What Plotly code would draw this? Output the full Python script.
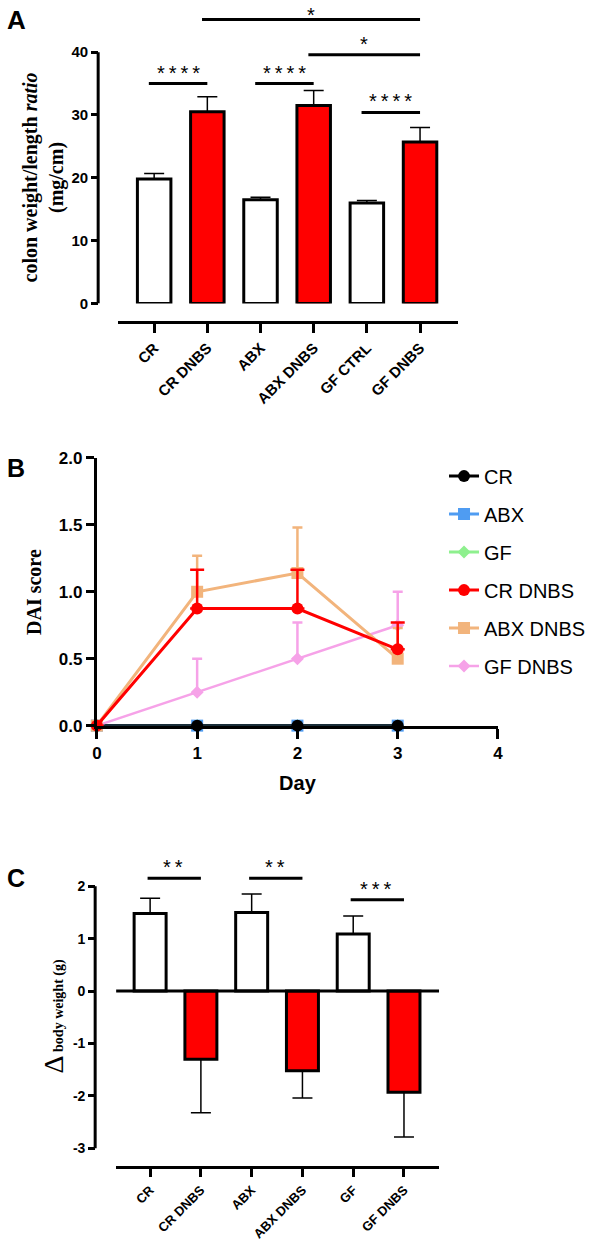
import plotly.graph_objects as go

W, H = 595, 1245

# ---------------- Data ----------------
# Panel A
a_groups = ["CR", "CR DNBS", "ABX", "ABX DNBS", "GF CTRL", "GF DNBS"]
a_means = [19.8, 30.5, 16.5, 31.5, 16.0, 25.7]
a_sem = [0.9, 2.4, 0.4, 2.4, 0.4, 2.3]
a_fill = ["white", "red", "white", "red", "white", "red"]
a_sig_pairs = [(0, 1), (2, 3), (4, 5), (3, 5), (1, 5)]
a_sig_y = [35.0, 35.0, 30.4, 39.6, 45.2]
a_sig_txt = ["****", "****", "****", "*", "*"]
a_yticks = [0, 10, 20, 30, 40]

# Panel B
b_days = [0, 1, 2, 3]
b_names = ["CR", "ABX", "GF", "CR DNBS", "ABX DNBS", "GF DNBS"]
b_values = {
    "CR": [0, 0, 0, 0],
    "ABX": [0, 0, 0, 0],
    "GF": [0, 0, 0, 0],
    "CR DNBS": [0, 0.875, 0.875, 0.57],
    "ABX DNBS": [0, 1.0, 1.14, 0.5],
    "GF DNBS": [0, 0.25, 0.5, 0.75],
}
b_err = {
    "CR": [0, 0, 0, 0],
    "ABX": [0, 0, 0, 0],
    "GF": [0, 0, 0, 0],
    "CR DNBS": [0, 0.29, 0.29, 0.2],
    "ABX DNBS": [0, 0.27, 0.34, 0.23],
    "GF DNBS": [0, 0.25, 0.27, 0.25],
}
b_colors = {"CR": "black", "ABX": "#4f9cf2", "GF": "#8ef08e",
            "CR DNBS": "#ff0000", "ABX DNBS": "#f2b47c", "GF DNBS": "#f6a2e8"}
b_symbols = {"CR": "circle", "ABX": "square", "GF": "diamond",
             "CR DNBS": "circle", "ABX DNBS": "square", "GF DNBS": "diamond"}
b_yticks = [0.0, 0.5, 1.0, 1.5, 2.0]
b_xticks = [0, 1, 2, 3, 4]

# Panel C
c_groups = ["CR", "CR DNBS", "ABX", "ABX DNBS", "GF", "GF DNBS"]
c_means = [1.48, -1.3, 1.5, -1.52, 1.09, -1.93]
c_sem = [0.29, 1.02, 0.35, 0.52, 0.34, 0.85]
c_fill = ["white", "red", "white", "red", "white", "red"]
c_sig_pairs = [(0, 1), (2, 3), (4, 5)]
c_sig_y = [2.15, 2.15, 1.74]
c_sig_txt = ["**", "**", "***"]
c_yticks = [2, 1, 0, -1, -2, -3]
c_yticklabels = ["2", "1", "0", "-1", "-2", "-3"]

# layout geometry (target picture pixels -> figure pixels)
S, OX, OY = 0.9836, 3.8, 9.9


def fpx(p):
    return (p - OX) / S


def fpy(p):
    return (p - OY) / S


def px_x(p):
    return min(max(fpx(p) / W, 0), 1)


def px_y(p):
    return min(max(1 - fpy(p) / H, 0), 1)


def stars(t):
    return "\u2009".join(t)


fig = go.Figure()
shapes = []
annotations = []

# ---------------- Panel A ----------------
a_zero_px, a_px_per_unit = 304, 6.275
a_top_fig = 0.0
a_range_top = (fpy(a_zero_px) - a_top_fig) / (a_px_per_unit / S)

fig.add_trace(go.Bar(
    x=list(range(len(a_groups))), y=a_means, width=0.63,
    marker=dict(color=a_fill, line=dict(color="black", width=3)),
    error_y=dict(type="data", array=a_sem, arrayminus=[0] * len(a_sem),
                 symmetric=False, color="black", thickness=1.5, width=10),
    xaxis="x", yaxis="y", showlegend=False,
))
for k, ((i, j), yv, t) in enumerate(zip(a_sig_pairs, a_sig_y, a_sig_txt)):
    shapes.append(dict(type="line", xref="x", yref="y", x0=i - 0.1, x1=j + 0.0,
                       y0=yv, y1=yv, line=dict(color="black", width=3)))
    top = yv > 42
    annotations.append(dict(xref="x", yref="y", x=(i + j) / 2 - 0.05, y=yv, text=stars(t),
                            showarrow=False, yanchor="bottom", yshift=-9 if top else -2,
                            font=dict(family="Arial", size=20, color="black")))
shapes.append(dict(type="line", xref="paper", yref="y", x0=px_x(97), x1=px_x(97),
                   y0=0, y1=40, line=dict(color="black", width=3)))

# ---------------- Panel B ----------------
draw_order = ["GF", "ABX", "CR", "GF DNBS", "ABX DNBS", "CR DNBS"]
for n in draw_order:
    big = n in ("CR", "CR DNBS", "ABX DNBS", "ABX")
    fig.add_trace(go.Scatter(
        x=b_days, y=b_values[n], name=n, mode="lines+markers",
        line=dict(color=b_colors[n], width=3 if n != "GF DNBS" else 2.5),
        marker=dict(symbol=b_symbols[n], color=b_colors[n],
                    size=(12 if big else 10)),
        error_y=dict(type="data", array=b_err[n], arrayminus=[0] * 4,
                     symmetric=False, color=b_colors[n], thickness=2.5,
                     width=7 if n == "CR DNBS" else 5,
                     visible=any(v > 0 for v in b_err[n])),
        xaxis="x2", yaxis="y2", cliponaxis=False,
        legendgroup=n, legendrank=b_names.index(n) + 1,
    ))

# ---------------- Panel C ----------------
c_two_px, c_px_per_unit = 886, 52.3
c_top_px = 855
c_range_top = 2 + (c_two_px - c_top_px) / c_px_per_unit

fig.add_trace(go.Bar(
    x=list(range(len(c_groups))), y=c_means, width=0.63,
    marker=dict(color=c_fill, line=dict(color="black", width=3)),
    error_y=dict(type="data",
                 array=[s if m > 0 else 0 for m, s in zip(c_means, c_sem)],
                 arrayminus=[s if m < 0 else 0 for m, s in zip(c_means, c_sem)],
                 symmetric=False, color="black", thickness=1.5, width=10),
    xaxis="x3", yaxis="y3", showlegend=False,
))
for (i, j), yv, t in zip(c_sig_pairs, c_sig_y, c_sig_txt):
    shapes.append(dict(type="line", xref="x3", yref="y3", x0=i - 0.05, x1=j + 0.0,
                       y0=yv, y1=yv, line=dict(color="black", width=3)))
    annotations.append(dict(xref="x3", yref="y3", x=(i + j) / 2 - 0.05, y=yv, text=stars(t),
                            showarrow=False, yanchor="bottom", yshift=-2,
                            font=dict(family="Arial", size=20, color="black")))
shapes.append(dict(type="line", xref="paper", yref="y3", x0=px_x(94), x1=px_x(94),
                   y0=-3, y1=2, line=dict(color="black", width=3)))
shapes.append(dict(type="line", xref="paper", yref="y3", x0=px_x(115), x1=px_x(438),
                   y0=0, y1=0, line=dict(color="black", width=3)))

# ---------------- Text labels ----------------
annotations += [
    dict(xref="paper", yref="paper", x=0, y=1, text="<b>A</b>",
         showarrow=False, xanchor="left", yanchor="top", yshift=6,
         font=dict(family="Arial", size=26, color="black")),
    dict(xref="paper", yref="paper", x=0, y=px_y(452), text="<b>B</b>",
         showarrow=False, xanchor="left", yanchor="top",
         font=dict(family="Arial", size=25, color="black")),
    dict(xref="paper", yref="paper", x=0, y=px_y(862), text="<b>C</b>",
         showarrow=False, xanchor="left", yanchor="top",
         font=dict(family="Arial", size=25, color="black")),
    dict(xref="paper", yref="paper", x=px_x(42), y=px_y(178),
         text="<b>colon weight/length <i>ratio</i></b><br><b>(mg/cm)</b>",
         showarrow=False, textangle=-90, xanchor="center", yanchor="middle",
         font=dict(family="Liberation Serif", size=20, color="black")),
    dict(xref="paper", yref="paper", x=px_x(33), y=px_y(592),
         text="<b>DAI score</b>", showarrow=False, textangle=-90,
         xanchor="center", yanchor="middle",
         font=dict(family="Liberation Serif", size=20, color="black")),
    dict(xref="paper", yref="paper", x=px_x(52), y=px_y(1016),
         text="<span style='font-size:28px'>Δ</span> <b>body weight (g)</b>",
         showarrow=False, textangle=-90, xanchor="center", yanchor="middle",
         font=dict(family="Liberation Serif", size=14, color="black")),
]

fig.update_layout(
    width=W, height=H, margin=dict(l=0, r=0, t=0, b=0),
    paper_bgcolor="white", plot_bgcolor="rgba(0,0,0,0)",
    shapes=shapes, annotations=annotations,
    showlegend=True,
    legend=dict(x=px_x(443), y=px_y(457), xanchor="left", yanchor="top",
                traceorder="grouped", tracegroupgap=9,
                font=dict(family="Arial", size=20, color="black"),
                bgcolor="rgba(0,0,0,0)", itemwidth=30),
    # Panel A axes
    xaxis=dict(domain=[px_x(117), px_x(457)], range=[-0.677, 5.714],
               anchor="free", position=px_y(323),
               tickvals=list(range(len(a_groups))), ticktext=a_groups,
               tickangle=-45, showline=True, linecolor="black", linewidth=3,
               ticks="outside", ticklen=9, tickwidth=3, tickcolor="black",
               showgrid=False, zeroline=False,
               tickfont=dict(family="Arial", size=15, color="black", weight="bold")),
    yaxis=dict(domain=[px_y(a_zero_px), 1], range=[0, a_range_top],
               anchor="free", position=px_x(97),
               tickvals=a_yticks, showline=False, showgrid=False, zeroline=False,
               ticks="outside", ticklen=7, tickwidth=3, tickcolor="black",
               tickfont=dict(family="Arial", size=15, color="black", weight="bold")),
    # Panel B axes
    xaxis2=dict(domain=[px_x(95.7), px_x(497)], range=[0, 4], anchor="y2",
                tickvals=b_xticks, showline=True, linecolor="black", linewidth=3,
                ticks="outside", ticklen=10, tickwidth=3, tickcolor="black",
                showgrid=False, zeroline=False,
                tickfont=dict(family="Arial", size=17, color="black", weight="bold"),
                title=dict(text="Day", standoff=14,
                           font=dict(family="Arial", size=20, color="black", weight="bold"))),
    yaxis2=dict(domain=[px_y(725.7), px_y(458.3)], range=[0, 2], anchor="x2",
                tickvals=b_yticks, tickformat=".1f", showline=True,
                linecolor="black", linewidth=3,
                ticks="outside", ticklen=8, tickwidth=3, tickcolor="black",
                showgrid=False, zeroline=False,
                tickfont=dict(family="Arial", size=17, color="black", weight="bold")),
    # Panel C axes
    xaxis3=dict(domain=[px_x(115), px_x(438)], range=[-0.669, 5.69],
                anchor="free", position=px_y(1167),
                tickvals=list(range(len(c_groups))), ticktext=c_groups,
                tickangle=-45, showline=True, linecolor="black", linewidth=3,
                ticks="outside", ticklen=8, tickwidth=3, tickcolor="black",
                showgrid=False, zeroline=False,
                tickfont=dict(family="Arial", size=13, color="black", weight="bold")),
    yaxis3=dict(domain=[px_y(1148), px_y(c_top_px)], range=[-3, c_range_top],
                anchor="free", position=px_x(94),
                tickvals=c_yticks, ticktext=c_yticklabels,
                showline=False, showgrid=False, zeroline=False,
                ticks="outside", ticklen=7, tickwidth=3, tickcolor="black",
                tickfont=dict(family="Arial", size=14, color="black", weight="bold")),
)

fig.write_html(
    "out.html",
    config={"displayModeBar": False},
    post_script=("document.documentElement.style.margin='0';"
                 "document.documentElement.style.overflow='hidden';"
                 "document.body.style.margin='0';document.body.style.padding='0';"
                 "document.body.style.overflow='hidden';"),
)
